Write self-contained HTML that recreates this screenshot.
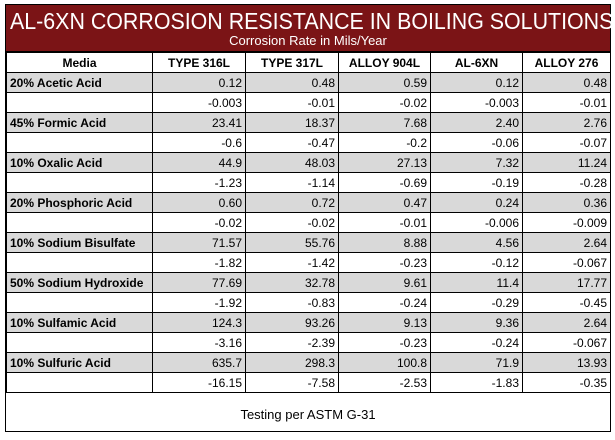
<!DOCTYPE html>
<html><head><meta charset="utf-8"><style>
body{margin:0;background:#fff;font-family:"Liberation Sans",sans-serif;}
#wrap{position:absolute;left:5px;top:4px;width:606px;height:428px;border:1px solid #000;box-sizing:border-box;}
#title{height:46px;background:#7b1416;color:#fff;text-align:center;position:relative;border-bottom:1px solid #000;}
#title .t{position:absolute;left:4px;top:3px;font-size:23px;white-space:nowrap;transform:scaleX(0.93);transform-origin:left top;}
#title .s{position:absolute;left:0;right:0;top:28px;font-size:13px;white-space:nowrap;}
table{border-collapse:collapse;width:604px;table-layout:fixed;font-size:12px;}
td,th{border:1px solid #000;height:19px;padding:0 3px;white-space:nowrap;overflow:hidden;}
th{font-weight:bold;text-align:center;}
td{text-align:right;}
td.m{text-align:left;font-weight:bold;}
tr.g td{background:#d9d9d9;}
#foot{height:40px;text-align:center;line-height:44px;font-size:13px;}
</style></head><body>
<div id="wrap">
<div id="title">
<div class="t">AL-6XN CORROSION RESISTANCE IN BOILING SOLUTIONS</div>
<div class="s">Corrosion Rate in Mils/Year</div>
</div>
<table id="tbl">
<colgroup><col style="width:146px"><col style="width:93px"><col style="width:93px"><col style="width:92px"><col style="width:92px"><col style="width:88px"></colgroup>
<thead><tr>
<th>Media</th>
<th>TYPE 316L</th>
<th>TYPE 317L</th>
<th>ALLOY 904L</th>
<th>AL-6XN</th>
<th>ALLOY 276</th>
</tr></thead>
<tbody id="tb"></tbody>
</table>
<div id="foot">Testing per ASTM G-31</div>
</div>
<script>
const media=["20% Acetic Acid","45% Formic Acid","10% Oxalic Acid","20% Phosphoric Acid","10% Sodium Bisulfate","50% Sodium Hydroxide","10% Sulfamic Acid","10% Sulfuric Acid"];
const rates=[["0.12","0.48","0.59","0.12","0.48"],["23.41","18.37","7.68","2.40","2.76"],["44.9","48.03","27.13","7.32","11.24"],["0.60","0.72","0.47","0.24","0.36"],["71.57","55.76","8.88","4.56","2.64"],["77.69","32.78","9.61","11.4","17.77"],["124.3","93.26","9.13","9.36","2.64"],["635.7","298.3","100.8","71.9","13.93"]];
const deltas=[["-0.003","-0.01","-0.02","-0.003","-0.01"],["-0.6","-0.47","-0.2","-0.06","-0.07"],["-1.23","-1.14","-0.69","-0.19","-0.28"],["-0.02","-0.02","-0.01","-0.006","-0.009"],["-1.82","-1.42","-0.23","-0.12","-0.067"],["-1.92","-0.83","-0.24","-0.29","-0.45"],["-3.16","-2.39","-0.23","-0.24","-0.067"],["-16.15","-7.58","-2.53","-1.83","-0.35"]];
const tb=document.getElementById('tb');
media.forEach((m,i)=>{
  [[m,rates[i],'g'],['',deltas[i],'w']].forEach(([label,vals,cls])=>{
    const tr=document.createElement('tr');
    tr.className=cls;
    
    
    const td=document.createElement('td');
    td.className='m';td.textContent=label;
    
    
    tr.appendChild(td);
    vals.forEach(v=>{
      const c=document.createElement('td');
      c.textContent=v;
      
      
      tr.appendChild(c);
    });
    tb.appendChild(tr);
  });
});
</script>
</body></html>
